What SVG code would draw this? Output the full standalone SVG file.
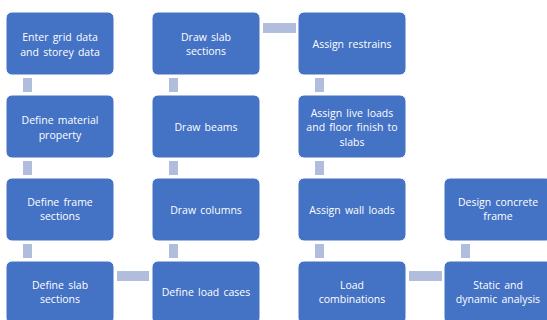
<svg xmlns="http://www.w3.org/2000/svg" width="547" height="320" viewBox="0 0 547 320">
<style>
.box{fill:#4472C4;stroke:#ffffff;stroke-width:1}
.con{fill:#B1BDDD}
text{font-family:"Open Sans","Noto Sans",sans-serif;font-size:10.5px;fill:#ffffff;text-anchor:middle;word-spacing:1.5px}
</style>
<rect width="547" height="320" fill="#ffffff"/>
<g id="connectors">
<rect class="con" x="23" y="78" width="9" height="14"/>
<rect class="con" x="23" y="161" width="9" height="14"/>
<rect class="con" x="23" y="244" width="9" height="14"/>
<rect class="con" x="117" y="271" width="32" height="10"/>
<rect class="con" x="169" y="244" width="9" height="14"/>
<rect class="con" x="169" y="161" width="9" height="14"/>
<rect class="con" x="169" y="78" width="9" height="14"/>
<rect class="con" x="263" y="23" width="33" height="10"/>
<rect class="con" x="315" y="78" width="9" height="14"/>
<rect class="con" x="315" y="161" width="9" height="14"/>
<rect class="con" x="315" y="244" width="9" height="14"/>
<rect class="con" x="409" y="271" width="33" height="10"/>
<rect class="con" x="461" y="244" width="9" height="14"/>
</g>
<g id="n1"><rect class="box" x="6" y="12" width="108" height="63" rx="6"/><text x="60" y="41">Enter grid data</text><text x="60" y="56">and storey data</text></g>
<g id="n2"><rect class="box" x="6" y="95" width="108" height="63" rx="6"/><text x="60" y="124">Define material</text><text x="60" y="139">property</text></g>
<g id="n3"><rect class="box" x="6" y="178" width="108" height="63" rx="6"/><text x="60" y="206">Define frame</text><text x="60" y="220">sections</text></g>
<g id="n4"><rect class="box" x="6" y="261" width="108" height="63" rx="6"/><text x="60" y="289">Define slab</text><text x="60" y="303">sections</text></g>
<g id="n5"><rect class="box" x="152" y="261" width="108" height="63" rx="6"/><text x="206" y="296">Define load cases</text></g>
<g id="n6"><rect class="box" x="152" y="178" width="108" height="63" rx="6"/><text x="206" y="214">Draw columns</text></g>
<g id="n7"><rect class="box" x="152" y="95" width="108" height="63" rx="6"/><text x="206" y="131">Draw beams</text></g>
<g id="n8"><rect class="box" x="152" y="12" width="108" height="63" rx="6"/><text x="206" y="41">Draw slab</text><text x="206" y="55">sections</text></g>
<g id="n9"><rect class="box" x="298" y="12" width="108" height="63" rx="6"/><text x="352" y="48">Assign restrains</text></g>
<g id="n10"><rect class="box" x="298" y="95" width="108" height="63" rx="6"/><text x="352" y="117">Assign live loads</text><text x="352" y="131">and floor finish to</text><text x="352" y="146">slabs</text></g>
<g id="n11"><rect class="box" x="298" y="178" width="108" height="63" rx="6"/><text x="352" y="214">Assign wall loads</text></g>
<g id="n12"><rect class="box" x="298" y="261" width="108" height="63" rx="6"/><text x="352" y="289">Load</text><text x="352" y="303">combinations</text></g>
<g id="n13"><rect class="box" x="444" y="261" width="108" height="63" rx="6"/><text x="498" y="289">Static and</text><text x="498" y="303">dynamic analysis</text></g>
<g id="n14"><rect class="box" x="444" y="178" width="108" height="63" rx="6"/><text x="498" y="206">Design concrete</text><text x="498" y="220">frame</text></g>
</svg>
